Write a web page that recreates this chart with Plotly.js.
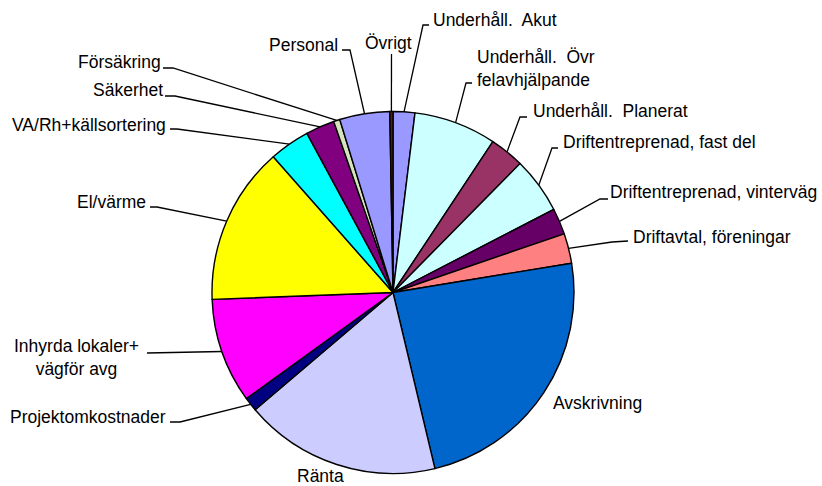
<!DOCTYPE html>
<html>
<head>
<meta charset="utf-8">
<script src="https://cdn.plot.ly/plotly-3.0.1.min.js"></script>
<style>html,body{margin:0;padding:0;background:#fff;}#chart{width:822px;height:486px;}</style>
</head>
<body>
<div id="chart"></div>
<script>
// ---- data (clockwise from 12 o'clock) ----
const categories = [
  "Underhåll.  Akut",
  "Underhåll.  Övr<br>felavhjälpande",
  "Underhåll.  Planerat",
  "Driftentreprenad, fast del",
  "Driftentreprenad, vinterväg",
  "Driftavtal, föreningar",
  "Avskrivning",
  "Ränta",
  "Projektomkostnader",
  "Inhyrda lokaler+<br>vägför avg",
  "El/värme",
  "VA/Rh+källsortering",
  "Säkerhet",
  "Försäkring",
  "Personal",
  "Övrigt"
];
const values = [1.94, 7.36, 3.08, 5.03, 2.33, 2.67, 23.86, 17.5, 1.25, 9.36, 14.1, 3.61, 2.58, 0.56, 4.47, 0.28];
const colors = ["#9999FF","#CCFFFF","#993366","#CCFFFF","#660066","#FF8080","#0066CC","#CCCCFF",
                "#000080","#FF00FF","#FFFF00","#00FFFF","#800080","#D7E4BD","#9999FF","#5A1E0A"];

// ---- layout (pixel positions of labels) ----
const W = 822, H = 486;
const CX = 393, CY = 292.5, R = 181;
// [textX, textY, xanchor, align, leader points (before the slice edge) or null]
const labelLayout = [
  [433, 20, "left", "left", [[429,25],[423,25]]],
  [477, 68, "left", "left", [[472,83],[466,83]]],
  [533, 111, "left", "left", [[527,117],[520,117]]],
  [563, 142, "left", "left", [[558,148],[552,148]]],
  [610, 192, "left", "left", [[608,199],[600,199]]],
  [633, 237, "left", "left", [[628,241],[612,242]]],
  [553, 403, "left", "left", null],
  [320, 476, "center", "center", null],
  [166, 417, "right", "right", [[170,422],[180,422]]],
  [76, 357, "center", "center", [[147,353]]],
  [146, 202, "right", "right", [[150,207],[157,207]]],
  [166, 125, "right", "right", [[170,129],[177,129]]],
  [163, 90, "right", "right", [[165,96],[175,96]]],
  [161, 62, "right", "right", [[163,68],[173,68]]],
  [338, 45, "right", "right", [[342,50],[350,50]]],
  [388, 43, "center", "center", [[391.5,54]]]
];

const px = x => x / W;
const py = y => 1 - y / H;

const total = values.reduce((a, b) => a + b, 0);
let cum = 0;
const annotations = [];
const shapes = [];
values.forEach((v, i) => {
  const mid = (cum + v / 2) / total * 2 * Math.PI;
  cum += v;
  const ex = CX + R * Math.sin(mid), ey = CY - R * Math.cos(mid);
  const L = labelLayout[i];
  annotations.push({
    text: categories[i], x: px(L[0]), y: py(L[1]), xref: "paper", yref: "paper",
    xanchor: L[2], yanchor: "middle", align: L[3], showarrow: false,
    borderpad: 0, borderwidth: 0,
    font: {family: "Liberation Sans, Arial, sans-serif", size: 17.5, color: "#000"}
  });
  if (L[4]) {
    const pts = L[4].concat([[ex, ey]]);
    const path = pts.map((p, k) => (k ? "L" : "M") + px(p[0]).toFixed(5) + "," + py(p[1]).toFixed(5)).join(" ");
    shapes.push({type: "path", xref: "paper", yref: "paper", path: path,
                 line: {color: "#000", width: 1.3}});
  }
});

const trace = {
  type: "pie",
  labels: categories,
  values: values,
  sort: false,
  direction: "clockwise",
  rotation: 0,
  textinfo: "none",
  hoverinfo: "label+percent",
  marker: {colors: colors, line: {color: "#000", width: 1.4}},
  domain: {x: [px(CX - R), px(CX + R)], y: [py(CY + R), py(CY - R)]},
  showlegend: false
};

const layout = {
  width: W, height: H,
  margin: {l: 0, r: 0, t: 0, b: 0},
  paper_bgcolor: "#fff",
  showlegend: false,
  annotations: annotations,
  shapes: shapes
};

Plotly.newPlot("chart", [trace], layout, {displayModeBar: false, staticPlot: true});
</script>
</body>
</html>
